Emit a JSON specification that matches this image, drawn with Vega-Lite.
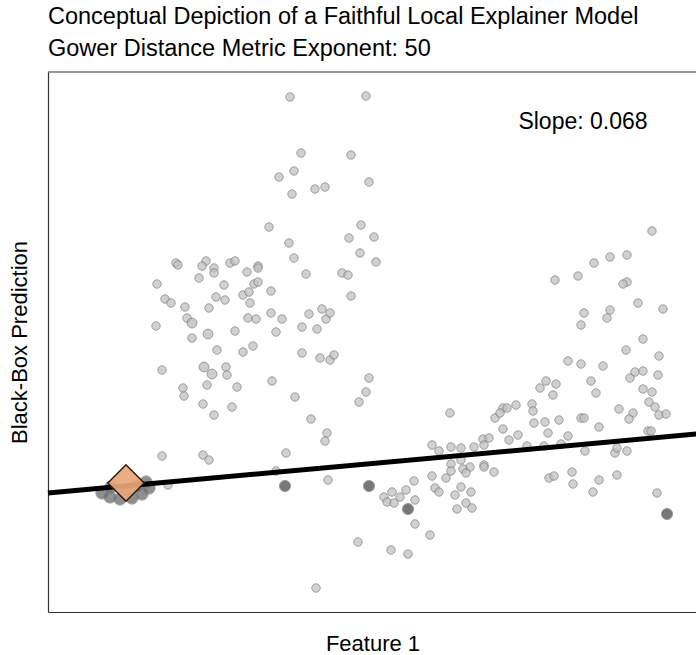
{
  "$schema": "https://vega.github.io/schema/vega-lite/v6.json",
  "width": 649,
  "height": 540,
  "padding": {"left": 8, "top": 5, "right": 0, "bottom": 0},
  "background": "white",
  "config": {
    "view": {"stroke": null},
    "font": "Liberation Sans",
    "axis": {"grid": false, "ticks": false, "labels": false, "domainColor": "#333333", "domainWidth": 1.2}
  },
  "title": {
    "text": "Conceptual Depiction of a Faithful Local Explainer Model",
    "subtitle": "Gower Distance Metric Exponent: 50",
    "anchor": "start",
    "frame": "group",
    "font": "Liberation Sans",
    "fontSize": 23.5,
    "fontWeight": "normal",
    "color": "#000000",
    "subtitleFont": "Liberation Sans",
    "subtitleFontSize": 23.5,
    "subtitleColor": "#000000",
    "subtitlePadding": 8,
    "offset": 11
  },
  "datasets": {
    "pts": [
      {"px":289,"py":96,"kind":"far"},{"px":365,"py":95,"kind":"far"},{"px":300,"py":152,"kind":"far"},{"px":350,"py":154,"kind":"far"},{"px":293,"py":170,"kind":"far"},{"px":278,"py":176,"kind":"far"},{"px":368,"py":181,"kind":"far"},{"px":291,"py":193,"kind":"far"},{"px":314,"py":188,"kind":"far"},{"px":324,"py":186,"kind":"far"},{"px":268,"py":226,"kind":"far"},{"px":360,"py":224,"kind":"far"},{"px":348,"py":237,"kind":"far"},{"px":288,"py":242,"kind":"far"},{"px":293,"py":257,"kind":"far"},{"px":359,"py":252,"kind":"far"},{"px":305,"py":273,"kind":"far"},{"px":341,"py":272,"kind":"far"},{"px":347,"py":274,"kind":"far"},{"px":350,"py":295,"kind":"far"},{"px":373,"py":236,"kind":"far"},{"px":375,"py":261,"kind":"far"},
      {"px":175,"py":262,"kind":"far"},{"px":177,"py":264,"kind":"far"},{"px":205,"py":260,"kind":"far"},{"px":201,"py":265,"kind":"far"},{"px":213,"py":267,"kind":"far"},{"px":213,"py":272,"kind":"far"},{"px":229,"py":262,"kind":"far"},{"px":234,"py":260,"kind":"far"},{"px":257,"py":265,"kind":"far"},{"px":257,"py":267,"kind":"far"},{"px":246,"py":271,"kind":"far"},{"px":198,"py":277,"kind":"far"},{"px":223,"py":284,"kind":"far"},{"px":253,"py":283,"kind":"far"},{"px":257,"py":281,"kind":"far"},{"px":156,"py":283,"kind":"far"},{"px":164,"py":298,"kind":"far"},{"px":170,"py":302,"kind":"far"},{"px":184,"py":306,"kind":"far"},{"px":208,"py":307,"kind":"far"},{"px":215,"py":296,"kind":"far"},{"px":224,"py":299,"kind":"far"},{"px":242,"py":294,"kind":"far"},{"px":248,"py":291,"kind":"far"},{"px":249,"py":302,"kind":"far"},{"px":270,"py":290,"kind":"far"},{"px":186,"py":317,"kind":"far"},{"px":191,"py":322,"kind":"mid"},{"px":207,"py":333,"kind":"mid"},{"px":234,"py":330,"kind":"far"},{"px":247,"py":317,"kind":"far"},{"px":255,"py":318,"kind":"far"},{"px":270,"py":312,"kind":"far"},{"px":281,"py":318,"kind":"far"},{"px":275,"py":331,"kind":"far"},{"px":301,"py":326,"kind":"far"},{"px":308,"py":313,"kind":"far"},{"px":316,"py":328,"kind":"far"},{"px":321,"py":308,"kind":"far"},{"px":325,"py":318,"kind":"far"},{"px":329,"py":312,"kind":"far"},{"px":155,"py":325,"kind":"far"},{"px":191,"py":337,"kind":"far"},
      {"px":216,"py":349,"kind":"far"},{"px":242,"py":351,"kind":"far"},{"px":252,"py":345,"kind":"far"},{"px":301,"py":352,"kind":"far"},{"px":319,"py":357,"kind":"far"},{"px":329,"py":359,"kind":"far"},{"px":333,"py":354,"kind":"far"},{"px":161,"py":369,"kind":"far"},{"px":203,"py":366,"kind":"mid"},{"px":211,"py":373,"kind":"mid"},{"px":225,"py":366,"kind":"far"},{"px":226,"py":374,"kind":"far"},{"px":271,"py":380,"kind":"far"},{"px":182,"py":387,"kind":"far"},{"px":183,"py":395,"kind":"far"},{"px":206,"py":384,"kind":"far"},{"px":236,"py":386,"kind":"far"},{"px":294,"py":396,"kind":"far"},{"px":365,"py":391,"kind":"far"},{"px":358,"py":401,"kind":"far"},{"px":368,"py":377,"kind":"far"},{"px":202,"py":403,"kind":"far"},{"px":213,"py":414,"kind":"far"},{"px":231,"py":406,"kind":"far"},{"px":310,"py":418,"kind":"far"},{"px":326,"py":432,"kind":"far"},{"px":324,"py":440,"kind":"far"},{"px":161,"py":455,"kind":"far"},{"px":202,"py":454,"kind":"far"},{"px":208,"py":459,"kind":"far"},{"px":285,"py":452,"kind":"far"},{"px":275,"py":470,"kind":"far"},{"px":327,"py":479,"kind":"far"},{"px":167,"py":484,"kind":"far"},{"px":357,"py":541,"kind":"far"},{"px":315,"py":587,"kind":"far"},
      {"px":651,"py":230,"kind":"far"},{"px":609,"py":256,"kind":"far"},{"px":626,"py":254,"kind":"far"},{"px":593,"py":262,"kind":"far"},{"px":577,"py":275,"kind":"far"},{"px":554,"py":279,"kind":"far"},{"px":626,"py":281,"kind":"far"},{"px":622,"py":283,"kind":"far"},{"px":637,"py":302,"kind":"far"},{"px":662,"py":308,"kind":"far"},{"px":583,"py":312,"kind":"far"},{"px":609,"py":309,"kind":"far"},{"px":606,"py":317,"kind":"far"},{"px":580,"py":324,"kind":"far"},{"px":642,"py":338,"kind":"far"},
      {"px":625,"py":349,"kind":"far"},{"px":658,"py":355,"kind":"far"},{"px":567,"py":360,"kind":"far"},{"px":580,"py":363,"kind":"far"},{"px":602,"py":365,"kind":"far"},{"px":545,"py":380,"kind":"far"},{"px":555,"py":383,"kind":"far"},{"px":539,"py":387,"kind":"far"},{"px":552,"py":394,"kind":"far"},{"px":590,"py":380,"kind":"far"},{"px":595,"py":392,"kind":"far"},{"px":629,"py":377,"kind":"far"},{"px":634,"py":371,"kind":"far"},{"px":642,"py":370,"kind":"far"},{"px":657,"py":374,"kind":"far"},{"px":642,"py":388,"kind":"far"},{"px":651,"py":391,"kind":"far"},{"px":648,"py":401,"kind":"far"},{"px":654,"py":406,"kind":"far"},{"px":658,"py":414,"kind":"far"},{"px":665,"py":413,"kind":"far"},{"px":618,"py":408,"kind":"far"},{"px":632,"py":412,"kind":"far"},{"px":628,"py":418,"kind":"far"},{"px":598,"py":426,"kind":"far"},{"px":580,"py":417,"kind":"far"},{"px":583,"py":417,"kind":"far"},{"px":647,"py":430,"kind":"far"},{"px":650,"py":430,"kind":"far"},
      {"px":449,"py":412,"kind":"far"},{"px":494,"py":417,"kind":"far"},{"px":502,"py":407,"kind":"far"},{"px":506,"py":407,"kind":"far"},{"px":499,"py":412,"kind":"far"},{"px":515,"py":404,"kind":"far"},{"px":531,"py":403,"kind":"far"},{"px":532,"py":410,"kind":"far"},{"px":533,"py":422,"kind":"far"},{"px":544,"py":421,"kind":"far"},{"px":558,"py":419,"kind":"far"},{"px":547,"py":432,"kind":"far"},{"px":567,"py":435,"kind":"far"},{"px":502,"py":428,"kind":"far"},{"px":517,"py":434,"kind":"far"},{"px":508,"py":439,"kind":"far"},{"px":482,"py":438,"kind":"far"},{"px":488,"py":437,"kind":"far"},{"px":483,"py":444,"kind":"far"},{"px":526,"py":445,"kind":"far"},{"px":543,"py":445,"kind":"far"},{"px":560,"py":443,"kind":"far"},{"px":584,"py":450,"kind":"far"},{"px":614,"py":452,"kind":"far"},{"px":616,"py":447,"kind":"far"},{"px":626,"py":450,"kind":"far"},
      {"px":431,"py":444,"kind":"far"},{"px":438,"py":450,"kind":"far"},{"px":450,"py":446,"kind":"far"},{"px":460,"py":447,"kind":"far"},{"px":473,"py":446,"kind":"far"},{"px":460,"py":459,"kind":"far"},{"px":450,"py":463,"kind":"far"},{"px":469,"py":466,"kind":"far"},{"px":462,"py":468,"kind":"far"},{"px":465,"py":472,"kind":"far"},{"px":483,"py":464,"kind":"far"},{"px":483,"py":466,"kind":"far"},{"px":493,"py":471,"kind":"far"},{"px":450,"py":470,"kind":"far"},{"px":431,"py":475,"kind":"far"},{"px":445,"py":477,"kind":"far"},{"px":413,"py":480,"kind":"far"},{"px":405,"py":489,"kind":"far"},{"px":399,"py":496,"kind":"far"},{"px":391,"py":491,"kind":"far"},{"px":383,"py":496,"kind":"far"},{"px":386,"py":501,"kind":"far"},{"px":393,"py":502,"kind":"far"},{"px":414,"py":499,"kind":"far"},{"px":434,"py":487,"kind":"far"},{"px":438,"py":491,"kind":"far"},{"px":460,"py":486,"kind":"far"},{"px":454,"py":494,"kind":"far"},{"px":470,"py":491,"kind":"far"},{"px":465,"py":502,"kind":"far"},{"px":456,"py":508,"kind":"far"},{"px":471,"py":507,"kind":"far"},{"px":548,"py":477,"kind":"far"},{"px":553,"py":475,"kind":"far"},{"px":571,"py":471,"kind":"far"},{"px":572,"py":483,"kind":"far"},{"px":598,"py":479,"kind":"far"},{"px":592,"py":491,"kind":"far"},{"px":616,"py":474,"kind":"far"},{"px":656,"py":492,"kind":"far"},
      {"px":414,"py":523,"kind":"far"},{"px":429,"py":534,"kind":"far"},{"px":390,"py":549,"kind":"far"},{"px":407,"py":553,"kind":"far"},
      {"px":284,"py":485,"kind":"near"},{"px":368,"py":485,"kind":"near"},{"px":407,"py":508,"kind":"near"},{"px":666,"py":513,"kind":"near"},
      {"px":101,"py":492,"kind":"local"},{"px":109,"py":496,"kind":"local"},{"px":119,"py":498,"kind":"local"},{"px":131,"py":497,"kind":"local"},{"px":141,"py":493,"kind":"local"},{"px":148,"py":487,"kind":"local"},{"px":145,"py":481,"kind":"local"},{"px":110,"py":486,"kind":"local"},{"px":124,"py":489,"kind":"local"},{"px":136,"py":485,"kind":"local"}
    ],
    "fit": [{"px":47,"py":492},{"px":696,"py":433}],
    "inst": [{"px":125,"py":482}],
    "lab": [{"px":582,"py":128,"t":"Slope: 0.068"}],
    "frame": [{"fy":540}]
  },
  "layer": [
    {
      "data": {"name": "pts"},
      "transform": [{"calculate": "datum.px - 47", "as": "fx"}, {"calculate": "611 - datum.py", "as": "fy"}],
      "mark": {"type": "circle", "opacity": 0.75, "stroke": "#7a7a7a", "strokeWidth": 1},
      "encoding": {
        "x": {"field": "fx", "type": "quantitative", "scale": {"domain": [0, 649], "nice": false, "zero": false}, "axis": {"orient": "bottom", "title": "Feature 1", "titlePadding": 21.5, "titleFontSize": 22, "titleFont": "Liberation Sans", "titleFontWeight": "normal", "titleColor": "#000000"}},
        "y": {"field": "fy", "type": "quantitative", "scale": {"domain": [0, 540], "nice": false, "zero": false}, "axis": {"orient": "left", "title": "Black-Box Prediction", "titlePadding": 17, "titleFontSize": 22, "titleFont": "Liberation Sans", "titleFontWeight": "normal", "titleColor": "#000000"}},
        "color": {"field": "kind", "type": "nominal", "scale": {"domain": ["far", "mid", "near", "local"], "range": ["#c2c2c2", "#bcbcbc", "#4a4a4a", "#6a6a6a"]}, "legend": null},
        "size": {"field": "kind", "type": "nominal", "scale": {"domain": ["far", "mid", "near", "local"], "range": [70, 150, 75, 260]}, "legend": null}
      }
    },
    {
      "data": {"name": "frame"},
      "mark": {"type": "rule", "color": "#333333", "strokeWidth": 1.2},
      "encoding": {
        "y": {"field": "fy", "type": "quantitative"}
      }
    },
    {
      "data": {"name": "fit"},
      "transform": [{"calculate": "datum.px - 47", "as": "fx"}, {"calculate": "611 - datum.py", "as": "fy"}],
      "mark": {"type": "line", "color": "#000000", "strokeWidth": 5},
      "encoding": {
        "x": {"field": "fx", "type": "quantitative"},
        "y": {"field": "fy", "type": "quantitative"}
      }
    },
    {
      "data": {"name": "inst"},
      "transform": [{"calculate": "datum.px - 47", "as": "fx"}, {"calculate": "611 - datum.py", "as": "fy"}],
      "mark": {"type": "point", "shape": "diamond", "size": 1320, "filled": true, "fill": "#e8a679", "fillOpacity": 0.92, "stroke": "#2a1a10", "strokeWidth": 1.5},
      "encoding": {
        "x": {"field": "fx", "type": "quantitative"},
        "y": {"field": "fy", "type": "quantitative"}
      }
    },
    {
      "data": {"name": "lab"},
      "transform": [{"calculate": "datum.px - 47", "as": "fx"}, {"calculate": "611 - datum.py", "as": "fy"}],
      "mark": {"type": "text", "fontSize": 23, "font": "Liberation Sans", "color": "#000000", "align": "center", "baseline": "alphabetic"},
      "encoding": {
        "x": {"field": "fx", "type": "quantitative"},
        "y": {"field": "fy", "type": "quantitative"},
        "text": {"field": "t"}
      }
    }
  ]
}
